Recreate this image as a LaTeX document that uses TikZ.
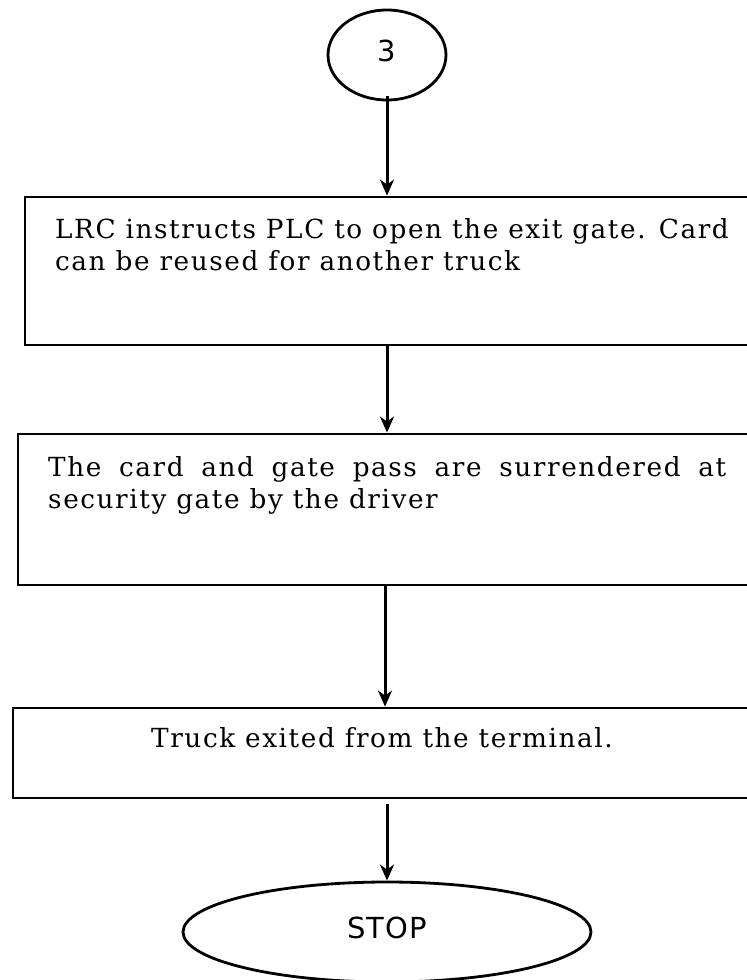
\documentclass[tikz,border=0pt]{standalone}
\usepackage{fontspec}
\setmainfont{DejaVu Serif}[LetterSpace=6]
\newfontfamily\dejasans{DejaVu Sans}[LetterSpace=4]
\usetikzlibrary{shapes.geometric,arrows.meta}
\tikzset{
  boxst/.style={draw, line width=2.8pt, inner sep=0pt},
  ovalst/.style={draw, ellipse, line width=2.8pt, inner sep=0pt, font=\dejasans\fontsize{29}{34}\selectfont},
  txt/.style={inner sep=0pt, anchor=base west, font=\fontsize{26.3}{32}\selectfont},
  arr/.style={line width=3pt, -{Stealth[length=16pt,width=14pt,inset=5pt]}}
}
\begin{document}
\begin{tikzpicture}[x=1pt,y=-1pt]
\useasboundingbox (0,0) rectangle (747,980);
\clip (0,0) rectangle (747,980);
\node[ovalst, minimum width=118pt, minimum height=90pt] (c3) at (387,55) {\raisebox{8pt}{3}};
\node[boxst, minimum width=736pt, minimum height=148pt] (b1) at (393,271) {};
\node[boxst, minimum width=744pt, minimum height=151pt] (b2) at (390,509.5) {};
\node[boxst, minimum width=748pt, minimum height=90pt] (b3) at (387,753) {};
\node[ovalst, minimum width=408pt, minimum height=100pt] (stop) at (387,932) {\raisebox{8pt}{STOP}};
\node[txt] (t1a) at (55,238) {LRC instructs PLC to open the exit gate. Card};
\node[txt] (t1b) at (55,270) {can be reused for another truck};
\node[txt] (t2a) at (48,476) {\makebox[678pt][s]{The card and gate pass are surrendered at}};
\node[txt] (t2b) at (48,508) {security gate by the driver};
\node[txt, anchor=base] (t3) at (382,747) {Truck exited from the terminal.};
\coordinate (a1s) at ([yshift=5pt]c3.south);
\draw[arr] (a1s) -- (a1s |- b1.north);
\draw[arr] (a1s |- b1.south) -- (a1s |- b2.north);
\coordinate (a3s) at (385,585);
\draw[arr] (a3s |- b2.south) -- (a3s |- b3.north);
\coordinate (a4s) at ([yshift=-5pt]b3.south);
\draw[arr] (a4s) -- (stop.north);
\end{tikzpicture}
\end{document}
